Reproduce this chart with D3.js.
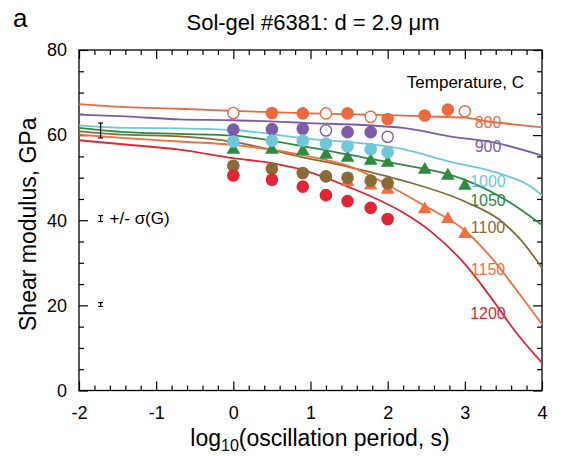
<!DOCTYPE html>
<html>
<head>
<meta charset="utf-8">
<script src="https://cdn.jsdelivr.net/npm/d3@7/dist/d3.min.js"></script>
<style>
  body { margin: 0; background: #fff; }
  svg { display: block; font-family: "Liberation Sans", Arial, Helvetica, sans-serif; }
</style>
</head>
<body>
<svg id="chart" width="562" height="456"></svg>
<script>
// temperatures (C) and their colours
const temps = [800, 900, 1000, 1050, 1100, 1150, 1200];
const colors = ["#eb6a40", "#7c5ca8", "#6fc7da", "#2e8a3e", "#8a6a36", "#f0703f", "#de2637"];

// model curves: [log10 period, G (GPa)]
const curve800 = [[-2,67.3],[-1.4,66.6],[-0.7,66.2],[0,65.7],[1,65.1],[2,64.7],[2.5,64.4],[3,64.1],[3.3,63.2],[3.6,62.6],[4,61.8]];
const curve900 = [[-2,64.8],[-1.4,64.4],[-0.7,63.7],[0,63.5],[0.9,62.9],[2.2,61.7],[2.8,59.7],[3.4,58.2],[4,55.2]];
const curve1000 = [[-2,62.3],[-1.4,61.7],[-0.7,61.6],[0,61.2],[0.9,59.3],[2.2,56.7],[2.8,53.8],[3.45,51.0],[3.88,47.6],[4,45.8]];
const curve1050 = [[-2,61.7],[-1.4,60.7],[-0.7,60.3],[0,59.9],[0.9,57.4],[1.5,55.4],[2.2,53.0],[2.8,50.7],[3.0,49.5],[3.6,44.0],[4,38.9]];
const curve1100 = [[-2,60.9],[-1.4,60.1],[-0.7,59.7],[0,58.4],[0.9,54.8],[1.5,52.5],[2.2,49.3],[3.0,44.4],[3.45,40.1],[3.72,35.5],[4,28.8]];
const curve1150 = [[-2,60.1],[-1.4,59.3],[-0.7,58.5],[0,57.7],[0.9,55.3],[1.5,52.7],[2.2,46.3],[2.5,43.2],[3.0,37.6],[3.33,31.5],[3.67,23.6],[4,15.5]];
const curve1200 = [[-2,58.8],[-1.4,57.8],[-0.7,56.6],[0,54.6],[0.5,53.4],[0.9,51.8],[1.5,47.8],[2.2,41.8],[2.55,37.5],[3.03,29.1],[3.36,21.3],[3.67,13.5],[4,6.5]];
const curves = [curve800, curve900, curve1000, curve1050, curve1100, curve1150, curve1200];

// measured points
const periods = [0, 0.5, 0.9, 1.2, 1.48, 1.78, 2.0, 2.48, 2.78, 3.0];
const g800 = [65.2, 65.2, 65.1, 65.1, 65.1, 64.3, 63.8, 64.6, 66.0, 65.6];
const filled800 = [0, 1, 1, 0, 1, 0, 1, 1, 1, 0];
const g900 = [61.3, 61.4, 61.5, 61.1, 60.7, 60.7, 59.6];
const filled900 = [1, 1, 1, 0, 1, 1, 0];
const g1000 = [58.5, 58.7, 58.7, 58.0, 57.4, 56.7, 56.0];
const g1050 = [56.8, 56.8, 56.5, 55.6, 54.9, 54.2, 53.7, 52.1, 50.7, 48.3];
const g1100 = [52.8, 52.1, 51.1, 50.3, 50.0, 49.3, 48.7];
const periods1150 = [1.48, 1.78, 2.0, 2.48, 2.78, 3.0];
const g1150 = [49.2, 48.4, 47.4, 42.8, 40.5, 37.0];
const g1200 = [50.5, 49.5, 47.9, 45.9, 44.5, 42.9, 40.3];

// error bar samples: [log period, G, +/- sigma]
const errorBars = [[-1.72, 61.1, 1.75], [-1.72, 40.4, 0.7], [-1.72, 20.2, 0.45]];

// curve label anchors (G value where each label sits)
const labelG = [63.0, 57.5, 49.2, 44.6, 38.4, 28.6, 18.1];
const labelT = 3.3;

const xTicks = [-2, -1, 0, 1, 2, 3, 4];
const yTicks = [0, 20, 40, 60, 80];

const svg = d3.select("#chart");
const x = d3.scaleLinear().domain([-2, 4]).range([79, 542]);
const y = d3.scaleLinear().domain([0, 80]).range([390.5, 50]);

const xMinor = d3.range(-2, 4.001, 0.2).map((d) => +d.toFixed(1)).filter((d) => !xTicks.includes(d));
const yMinor = d3.range(0, 80.001, 5).filter((d) => !yTicks.includes(d));

function styleAxis(sel) {
	sel.select(".domain").remove();
	sel.selectAll("line").attr("stroke", "#000").attr("stroke-width", 1.2);
	sel.selectAll("text").attr("fill", "#000").attr("font-size", 18);
}

// major/minor ticks on all four sides, pointing inward
svg.append("g").attr("transform", `translate(0,${y(0)})`)
	.call(d3.axisBottom(x).tickValues(xTicks).tickSize(-9).tickPadding(16).tickFormat((d) => String(d)))
	.call(styleAxis);
svg.append("g").attr("transform", `translate(0,${y(0)})`)
	.call(d3.axisBottom(x).tickValues(xMinor).tickSize(-5).tickFormat(""))
	.call(styleAxis);
svg.append("g").attr("transform", `translate(0,${y(80)})`)
	.call(d3.axisTop(x).tickValues(xTicks).tickSize(-9).tickFormat(""))
	.call(styleAxis);
svg.append("g").attr("transform", `translate(0,${y(80)})`)
	.call(d3.axisTop(x).tickValues(xMinor).tickSize(-5).tickFormat(""))
	.call(styleAxis);
svg.append("g").attr("transform", `translate(${x(-2)},0)`)
	.call(d3.axisLeft(y).tickValues(yTicks).tickSize(-9).tickPadding(12))
	.call(styleAxis);
svg.append("g").attr("transform", `translate(${x(-2)},0)`)
	.call(d3.axisLeft(y).tickValues(yMinor).tickSize(-5).tickFormat(""))
	.call(styleAxis);
svg.append("g").attr("transform", `translate(${x(4)},0)`)
	.call(d3.axisRight(y).tickValues(yTicks).tickSize(-9).tickFormat(""))
	.call(styleAxis);
svg.append("g").attr("transform", `translate(${x(4)},0)`)
	.call(d3.axisRight(y).tickValues(yMinor).tickSize(-5).tickFormat(""))
	.call(styleAxis);

svg.append("rect")
	.attr("x", x(-2)).attr("y", y(80))
	.attr("width", x(4) - x(-2)).attr("height", y(0) - y(80))
	.attr("fill", "none").attr("stroke", "#000").attr("stroke-width", 1.3);

// model curves
const line = d3.line().x((d) => x(d[0])).y((d) => y(d[1])).curve(d3.curveMonotoneX);
svg.append("g").selectAll("path")
	.data(curves)
	.join("path")
	.attr("d", line)
	.attr("fill", "none")
	.attr("stroke", (d, i) => colors[i])
	.attr("stroke-width", 1.8);

// error bars
const eb = svg.append("g").attr("stroke", "#000").attr("stroke-width", 1.2);
errorBars.forEach(([t, g, s]) => {
	const cx = x(t);
	eb.append("line").attr("x1", cx).attr("x2", cx).attr("y1", y(g - s)).attr("y2", y(g + s));
	eb.append("line").attr("x1", cx - 2.5).attr("x2", cx + 2.5).attr("y1", y(g - s)).attr("y2", y(g - s));
	eb.append("line").attr("x1", cx - 2.5).attr("x2", cx + 2.5).attr("y1", y(g + s)).attr("y2", y(g + s));
});
svg.append("text")
	.attr("x", x(errorBars[1][0]) + 9).attr("y", y(errorBars[1][1]) + 5)
	.attr("font-size", 17)
	.text("+/- σ(G)");

// triangles first, circles drawn over them
const tri = d3.symbol().type(d3.symbolTriangle).size(80);
function drawTriangles(ts, gs, color) {
	svg.append("g").selectAll("path")
		.data(gs)
		.join("path")
		.attr("d", tri)
		.attr("transform", (d, i) => `translate(${x(ts[i])},${y(d) + 1})`)
		.attr("fill", color);
}
function drawCircles(ts, gs, color, filled) {
	svg.append("g").selectAll("circle")
		.data(gs)
		.join("circle")
		.attr("cx", (d, i) => x(ts[i]))
		.attr("cy", (d) => y(d))
		.attr("r", (d, i) => (filled && !filled[i] ? 5.6 : 6.3))
		.attr("fill", (d, i) => (filled && !filled[i] ? "#fff" : color))
		.attr("stroke", (d, i) => (filled && !filled[i] ? color : "none"))
		.attr("stroke-width", 1.4);
}

drawTriangles(periods, g1050, colors[3]);
drawTriangles(periods1150, g1150, colors[5]);
drawCircles(periods, g800, colors[0], filled800);
drawCircles(periods, g900, colors[1], filled900);
drawCircles(periods, g1000, colors[2]);
drawCircles(periods, g1100, colors[4]);
drawCircles(periods, g1200, colors[6]);

// curve labels
svg.append("g").selectAll("text")
	.data(temps)
	.join("text")
	.attr("x", x(labelT))
	.attr("y", (d, i) => y(labelG[i]))
	.attr("dy", "0.36em")
	.attr("text-anchor", "middle")
	.attr("font-size", 16)
	.attr("fill", (d, i) => colors[i])
	.text((d) => d);

svg.append("text")
	.attr("x", 524).attr("y", 88)
	.attr("text-anchor", "end")
	.attr("font-size", 17)
	.text("Temperature, C");

// titles
svg.append("text").attr("x", 13).attr("y", 27).attr("font-size", 26).text("a");
svg.append("text")
	.attr("x", 313).attr("y", 30)
	.attr("text-anchor", "middle")
	.attr("font-size", 22)
	.text("Sol-gel #6381: d = 2.9 μm");

const xl = svg.append("text")
	.attr("x", 320).attr("y", 446)
	.attr("text-anchor", "middle")
	.attr("font-size", 23);
xl.append("tspan").text("log");
xl.append("tspan").attr("font-size", 16).attr("dy", 5).text("10");
xl.append("tspan").attr("dy", -5).text("(oscillation period, s)");

svg.append("text")
	.attr("transform", `translate(36,${(y(0) + y(80)) / 2 + 4}) rotate(-90)`)
	.attr("text-anchor", "middle")
	.attr("font-size", 23)
	.text("Shear modulus, GPa");
</script>
</body>
</html>
